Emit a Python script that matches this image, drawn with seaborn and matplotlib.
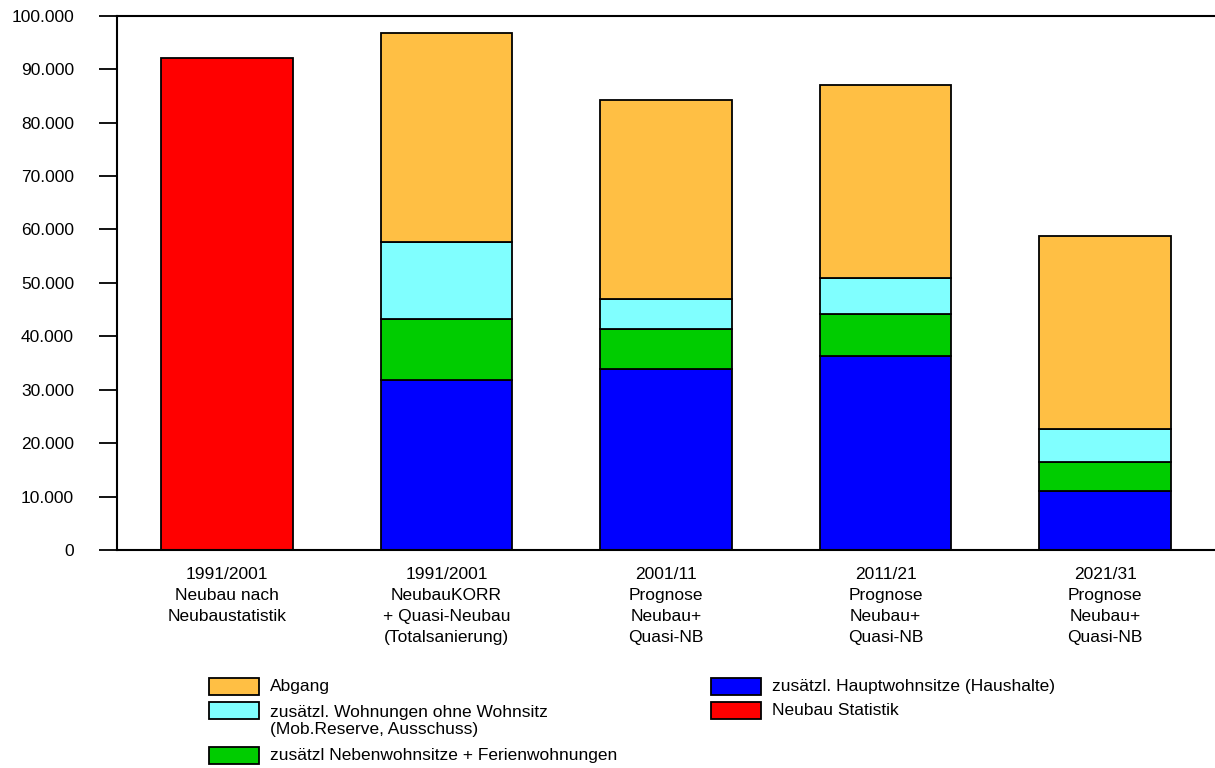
import matplotlib
matplotlib.use("Agg")
import matplotlib.pyplot as plt
from matplotlib.patches import Rectangle
from matplotlib.ticker import FuncFormatter
import numpy as np
import pandas as pd
import seaborn as sns

# Categories (x axis labels)
categories = [
    "1991/2001\nNeubau nach\nNeubaustatistik",
    "1991/2001\nNeubauKORR\n+ Quasi-Neubau\n(Totalsanierung)",
    "2001/11\nPrognose\nNeubau+\nQuasi-NB",
    "2011/21\nPrognose\nNeubau+\nQuasi-NB",
    "2021/31\nPrognose\nNeubau+\nQuasi-NB",
]

# Neubau Statistik (only first category)
neubau_statistik = [92000]

# Stacked components for categories 2..5 (bottom to top)
hauptwohnsitze = [31900, 33900, 36300, 11000]
nebenwohnsitze = [11300, 7400, 7900, 5500]
ohne_wohnsitz = [14400, 5700, 6700, 6100]
abgang = [39200, 37200, 36100, 36200]

yticks = list(range(0, 100001, 10000))

c_abgang = "#FFBF44"
c_ohne = "#80FFFF"
c_neben = "#00CC00"
c_haupt = "#0000FF"
c_red = "#FF0000"

sns.set_theme(style="white")
plt.rcParams["font.family"] = ["Liberation Sans", "DejaVu Sans"]

fig = plt.figure(figsize=(12.15, 7.68), dpi=100)
ax = fig.add_axes([0.0963, 0.2839, 0.9037, 0.6957])

bar_kw = dict(width=0.6, edgecolor="black", linewidth=1.3, errorbar=None,
              order=categories, ax=ax)

# Red single bar
df_red = pd.DataFrame({"cat": categories[:1], "val": neubau_statistik})
sns.barplot(data=df_red, x="cat", y="val", color=c_red, saturation=1, **bar_kw)

# Stacked bars
stack_cats = categories[1:]
bottom = np.zeros(len(stack_cats))
for vals, col in [(hauptwohnsitze, c_haupt), (nebenwohnsitze, c_neben),
                  (ohne_wohnsitz, c_ohne), (abgang, c_abgang)]:
    df = pd.DataFrame({"cat": stack_cats, "val": vals})
    sns.barplot(data=df, x="cat", y="val", color=col, saturation=1,
                bottom=bottom.copy(), **bar_kw)
    bottom += np.array(vals)

ax.set_xlim(-0.5, 4.5)
ax.set_ylim(0, 100000)
ax.set_yticks(yticks)
ax.yaxis.set_major_formatter(FuncFormatter(lambda v, p: f"{int(v):,}".replace(",", ".")))
ax.set_xlabel("")
ax.set_ylabel("")

ax.tick_params(axis="y", direction="out", length=13, width=1.3, pad=18,
               labelsize=12.5, colors="black", left=True)
ax.tick_params(axis="x", length=0, pad=12, labelsize=12.5, colors="black")
for lbl in ax.get_xticklabels():
    lbl.set_linespacing(1.5)
    lbl.set_verticalalignment("top")

for side in ["left", "top", "bottom"]:
    ax.spines[side].set_visible(True)
    ax.spines[side].set_color("black")
    ax.spines[side].set_linewidth(1.5)
ax.spines["right"].set_visible(False)
ax.grid(False)

# Legend drawn in figure pixel coordinates
W, H = 1215, 768
legend_items = [
    (209, 678, c_abgang, "Abgang"),
    (209, 702, c_ohne, "zusätzl. Wohnungen ohne Wohnsitz\n(Mob.Reserve, Ausschuss)"),
    (209, 747, c_neben, "zusätzl Nebenwohnsitze + Ferienwohnungen"),
    (711, 678, c_haupt, "zusätzl. Hauptwohnsitze (Haushalte)"),
    (711, 702, c_red, "Neubau Statistik"),
]
for px, py, col, text in legend_items:
    fig.patches.append(Rectangle((px / W, 1 - (py + 17) / H), 50 / W, 17 / H,
                                 facecolor=col, edgecolor="black", linewidth=1.3,
                                 transform=fig.transFigure))
    if "\n" in text:
        fig.text((px + 61) / W, 1 - (py + 3) / H, text, fontsize=12.5,
                 ha="left", va="top", linespacing=1.2, color="black")
    else:
        fig.text((px + 61) / W, 1 - (py + 8.5) / H, text, fontsize=12.5,
                 ha="left", va="center", color="black")

fig.savefig("out.png", dpi=100, facecolor="white")
